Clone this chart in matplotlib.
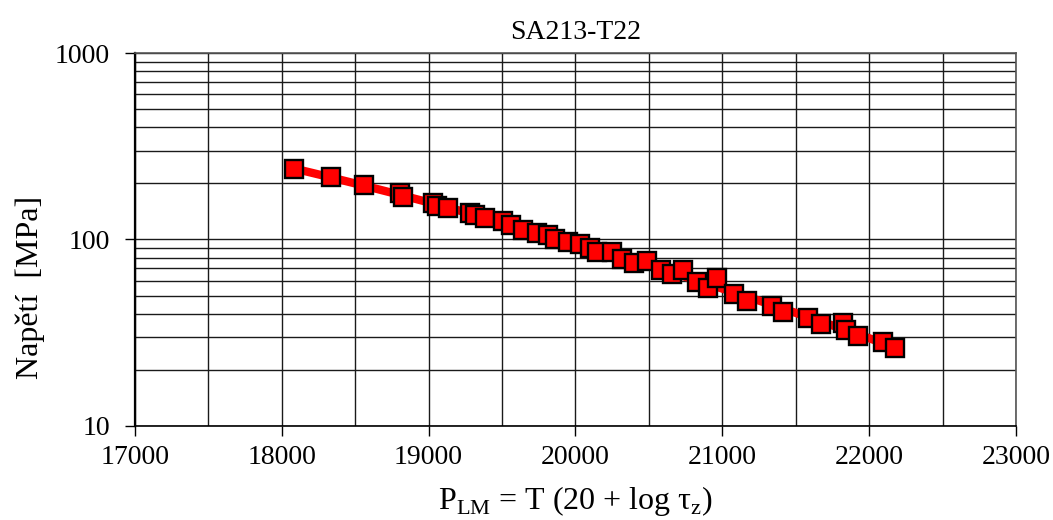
import numpy as np
import matplotlib
matplotlib.use("Agg")
import matplotlib.pyplot as plt
from matplotlib.ticker import FixedLocator, FixedFormatter, NullFormatter, LogLocator

plt.rcParams['font.family'] = ['Liberation Serif', 'DejaVu Serif']
plt.rcParams['mathtext.fontset'] = 'custom'
plt.rcParams['mathtext.rm'] = 'Liberation Serif'

title = "SA213-T22"
x_label = r"P$_\mathregular{LM}$ = T (20 + log τ$_\mathregular{z}$)"
y_label = "Napětí  [MPa]"

# Larson-Miller parameter and stress values
plm = [18083, 18335, 18560, 18805, 18826, 19030, 19060, 19132, 19282, 19316,
       19384, 19510, 19560, 19640, 19740, 19810, 19860, 19950, 20030, 20100,
       20150, 20250, 20320, 20400, 20490, 20580, 20660, 20730, 20830, 20900,
       20965, 21080, 21170, 21340, 21410, 21580, 21670, 21820, 21840, 21925,
       22095, 22177]
stress = [239, 216, 196, 177, 169, 157, 152, 148, 139, 135,
          130, 125, 120, 113, 108, 106, 101, 97, 95, 90,
          86, 86, 79, 75, 77, 69, 65, 69, 59, 55,
          62, 51, 47, 44, 41, 38, 35, 35.6, 32.7, 30.4,
          28.2, 26.2]

x_ticks = [17000, 18000, 19000, 20000, 21000, 22000, 23000]
y_ticks = [10, 100, 1000]

fig = plt.figure(figsize=(10.53, 5.2), dpi=100)
ax = fig.add_axes([0.128, 0.181, 0.837, 0.717])

x = np.array(plm, dtype=float)
y = np.array(stress, dtype=float)

# smooth trend of log-stress over the parameter range
coef = np.polyfit(x, np.log10(y), 2)
xf = np.linspace(x.min(), x.max(), 200)
ax.plot(xf, 10 ** np.polyval(coef, xf), color='#ff0000', lw=6, zorder=3,
        solid_capstyle='butt')

ax.plot(x, y, linestyle='none', marker='s', markersize=12.5,
        markerfacecolor='#ff0000', markeredgecolor='black',
        markeredgewidth=1.7, zorder=4)

ax.set_yscale('log')
ax.set_xlim(17000, 23000)
ax.set_ylim(10, 1000)

ax.xaxis.set_major_locator(FixedLocator(x_ticks))
ax.xaxis.set_major_formatter(FixedFormatter([str(v) for v in x_ticks]))
ax.xaxis.set_minor_locator(FixedLocator(np.arange(17500, 23000, 1000)))
ax.yaxis.set_major_locator(FixedLocator(y_ticks))
ax.yaxis.set_major_formatter(FixedFormatter([str(v) for v in y_ticks]))
ax.yaxis.set_minor_locator(LogLocator(base=10, subs=np.arange(2, 10)))
ax.yaxis.set_minor_formatter(NullFormatter())

ax.grid(True, which='both', color='#1a1a1a', lw=1.0, zorder=1)
ax.set_axisbelow(True)

ax.tick_params(axis='x', which='major', direction='out', length=7,
               width=1, color='black', labelsize=20, pad=7)
ax.tick_params(axis='y', which='major', direction='out', length=7,
               width=1, color='black', labelsize=20, pad=11)
ax.tick_params(axis='both', which='minor', length=0)

for s in ax.spines.values():
    s.set_color('#555555')
    s.set_linewidth(1.2)
ax.spines['left'].set_color('black')
ax.spines['left'].set_linewidth(1.6)
ax.spines['bottom'].set_color('black')

ax.set_title(title, fontsize=20, pad=10)
ax.set_xlabel(x_label, fontsize=23, labelpad=10)
fig.text(30 / 1053, 1 - 287 / 520, y_label, rotation=90, fontsize=23,
         ha='center', va='center')

fig.savefig('out.png', dpi=100)
